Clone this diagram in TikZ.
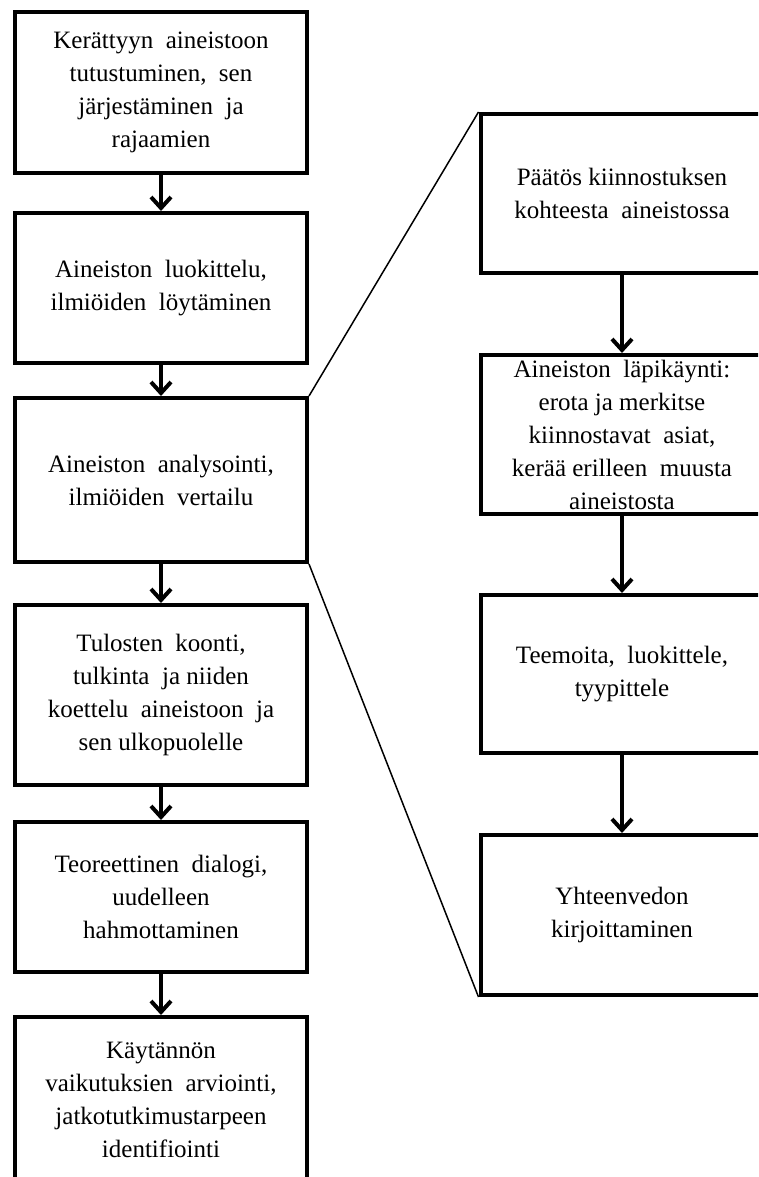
\documentclass[tikz,border=0pt]{standalone}
\usepackage{fontspec}
\setmainfont{Liberation Serif}
\usetikzlibrary{arrows.meta}
\tikzset{
box/.style={draw, line width=4pt, inner sep=0pt, align=center,
  font=\fontsize{25}{33}\selectfont},
flow/.style={-{Straight Barb[length=11pt,width=20pt]}, line width=4pt},
zoomline/.style={line width=1.5pt}
}

\begin{document}
\begin{tikzpicture}[x=1pt,y=-1pt]
  \path[use as bounding box, clip] (0,0) rectangle (758,1177);
  % left column
  \node[box, minimum width=292pt, minimum height=161pt] (l1) at (161,92.5)
    {Kerättyyn\ \ aineistoon\\ tutustuminen,\ \ sen\\ järjestäminen\ \ ja\\ rajaamien};
  \node[box, minimum width=292pt, minimum height=150pt] (l2) at (161,288)
    {Aineiston\ \ luokittelu,\\ ilmiöiden\ \ löytäminen};
  \node[box, minimum width=292pt, minimum height=164pt] (l3) at (161,480)
    {Aineiston\ \ analysointi,\\ ilmiöiden\ \ vertailu};
  \node[box, minimum width=292pt, minimum height=180pt] (l4) at (161,695)
    {Tulosten\ \ koonti,\\ tulkinta\ \ ja niiden\\ koettelu\ \ aineistoon\ \ ja\\ sen ulkopuolelle};
  \node[box, minimum width=292pt, minimum height=150pt] (l5) at (161,897)
    {Teoreettinen\ \ dialogi,\\ uudelleen\\ hahmottaminen};
  \node[box, minimum width=292pt, minimum height=166pt] (l6) at (161,1100)
    {Käytännön\\ vaikutuksien\ \ arviointi,\\ jatkotutkimustarpeen\\ identifiointi};
  % right column
  \node[box, minimum width=283pt, minimum height=159pt] (r1) at (622,193.5)
    {Päätös kiinnostuksen\\ kohteesta\ \ aineistossa};
  \node[box, minimum width=283pt, minimum height=159pt] (r2) at (622,434.5)
    {Aineiston\ \ läpikäynti:\\ erota ja merkitse\\ kiinnostavat\ \ asiat,\\ kerää erilleen\ \ muusta\\ aineistosta};
  \node[box, minimum width=283pt, minimum height=158pt] (r3) at (622,674)
    {Teemoita,\ \ luokittele,\\ tyypittele};
  \node[box, minimum width=283pt, minimum height=160pt] (r4) at (622,915)
    {Yhteenvedon\\ kirjoittaminen};
  % arrows
  \foreach \a/\b in {l1/l2, l2/l3, l3/l4, l4/l5, l5/l6, r1/r2, r2/r3, r3/r4}
    \draw[flow] (\a) -- (\b);
  % zoom lines
  \draw[zoomline] (l3.north east) -- (r1.north west);
  \draw[zoomline] (l3.south east) -- (r4.south west);
\end{tikzpicture}
\end{document}
